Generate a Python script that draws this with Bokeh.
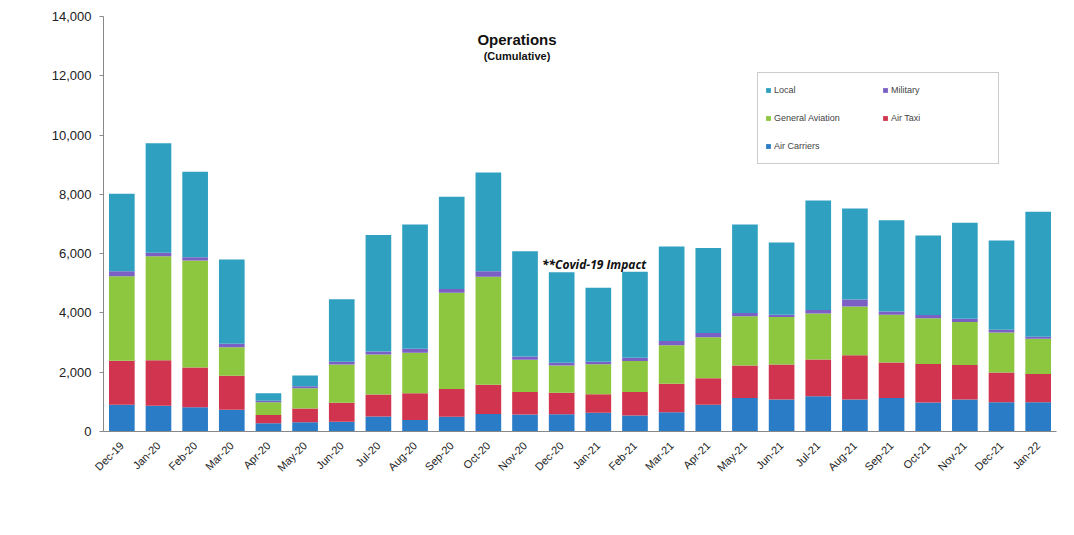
from bokeh.plotting import figure
from bokeh.models import ColumnDataSource, Legend, LegendItem, NumeralTickFormatter, FixedTicker, FactorRange
from bokeh.core.properties import value
from bokeh.embed import file_html
from bokeh.resources import INLINE
import math

months = ["Dec-19", "Jan-20", "Feb-20", "Mar-20", "Apr-20", "May-20", "Jun-20", "Jul-20",
          "Aug-20", "Sep-20", "Oct-20", "Nov-20", "Dec-20", "Jan-21", "Feb-21", "Mar-21",
          "Apr-21", "May-21", "Jun-21", "Jul-21", "Aug-21", "Sep-21", "Oct-21", "Nov-21",
          "Dec-21", "Jan-22"]

air_carriers = [900, 870, 820, 730, 280, 310, 330, 510, 390, 500, 590, 570, 580, 630, 540, 650,
                900, 1130, 1080, 1190, 1080, 1130, 980, 1080, 990, 990]
air_taxi = [1490, 1530, 1340, 1150, 280, 470, 640, 740, 900, 930, 990, 760, 730, 630, 790, 960,
            900, 1100, 1180, 1240, 1490, 1200, 1300, 1160, 1000, 950]
general_aviation = [2850, 3510, 3610, 960, 430, 680, 1290, 1350, 1370, 3250, 3640, 1090, 920, 1010, 1050, 1300,
                    1380, 1660, 1600, 1550, 1650, 1610, 1540, 1450, 1350, 1190]
military = [170, 120, 110, 120, 50, 70, 90, 100, 130, 130, 190, 110, 90, 80, 110, 140,
            140, 110, 80, 120, 230, 110, 110, 110, 90, 70]
local = [2610, 3690, 2880, 2840, 250, 360, 2110, 3930, 4190, 3110, 3330, 3550, 3050, 2500, 2900, 3190,
         2870, 2980, 2440, 3690, 3070, 3080, 2680, 3240, 3010, 4210]

series = ["Air Carriers", "Air Taxi", "General Aviation", "Military", "Local"]
colors = ["#2a7cc6", "#d0344e", "#8dc63f", "#7b5fc4", "#2fa0c0"]

y_ticks = [0, 2000, 4000, 6000, 8000, 10000, 12000, 14000]
title_text = "Operations"
subtitle_text = "(Cumulative)"
note_text = "**Covid-19 Impact"
note_month = "Nov-20"

data = {"month": months, "Air Carriers": air_carriers, "Air Taxi": air_taxi,
        "General Aviation": general_aviation, "Military": military, "Local": local}
source = ColumnDataSource(data)

p = figure(x_range=FactorRange(*months), y_range=(0, 14000), width=1058, height=519,
           output_backend="svg", toolbar_location=None,
           min_border_left=103, min_border_right=2, min_border_top=16, min_border_bottom=88)
p.outline_line_color = None
p.xgrid.visible = False
p.ygrid.visible = False
p.background_fill_color = "white"
p.border_fill_color = "white"

renderers = p.vbar_stack(series, x="month", width=0.7, color=colors, source=source, line_color=None)

# axes
p.yaxis.ticker = FixedTicker(ticks=y_ticks)
p.yaxis.formatter = NumeralTickFormatter(format="0,0")
p.yaxis.major_label_text_font = "Liberation Sans"
p.yaxis.major_label_text_font_size = "13px"
p.yaxis.major_label_text_color = "#222222"
p.yaxis.axis_line_color = "#888888"
p.yaxis.major_tick_line_color = "#888888"
p.yaxis.major_tick_in = 0
p.yaxis.major_tick_out = 4
p.yaxis.minor_tick_line_color = None
p.yaxis.major_label_standoff = 8

p.xaxis.major_label_orientation = math.pi / 4
p.xaxis.major_label_text_font = "Liberation Sans"
p.xaxis.major_label_text_font_size = "11px"
p.xaxis.major_label_text_color = "#222222"
p.xaxis.axis_line_color = "#888888"
p.xaxis.major_tick_line_color = None
p.xaxis.major_label_standoff = 6

# title inside the plot area
mid = months[len(months) // 2 - 2]
p.text(x=[mid], y=[14000], text=[title_text], text_font=value("Liberation Sans"),
       text_font_size="15px", text_font_style="bold", text_align="center",
       text_baseline="top", x_offset=-8, y_offset=14, text_color="#111111")
p.text(x=[mid], y=[14000], text=[subtitle_text], text_font=value("Liberation Sans"),
       text_font_size="11px", text_font_style="bold", text_align="center",
       text_baseline="top", x_offset=-8, y_offset=33, text_color="#111111")

# covid annotation
idx = months.index(note_month)
tot = air_carriers[idx] + air_taxi[idx] + general_aviation[idx] + military[idx] + local[idx]
p.text(x=[note_month], y=[tot], text=[note_text], text_font=value("Open Sans"),
       text_font_size="12px", text_font_style="bold italic", text_align="left",
       text_baseline="top", x_offset=17, y_offset=5, text_color="#111111")

# legend (filled column by column)
order = ["Local", "General Aviation", "Air Carriers", "Military", "Air Taxi"]
rmap = dict(zip(series, renderers))
items = [LegendItem(label=name, renderers=[rmap[name]]) for name in order]
legend = Legend(items=items, ncols=2, location=(654, 267),
                glyph_width=6, glyph_height=6, label_text_font="Liberation Sans",
                label_text_font_size="9px", label_standoff=3, label_width=100,
                label_height=20, spacing=8, padding=7, margin=0,
                border_line_color="#999999", border_line_width=1,
                background_fill_alpha=1.0)
p.add_layout(legend, "center")

open("out.html", "w").write(file_html(p, INLINE))
